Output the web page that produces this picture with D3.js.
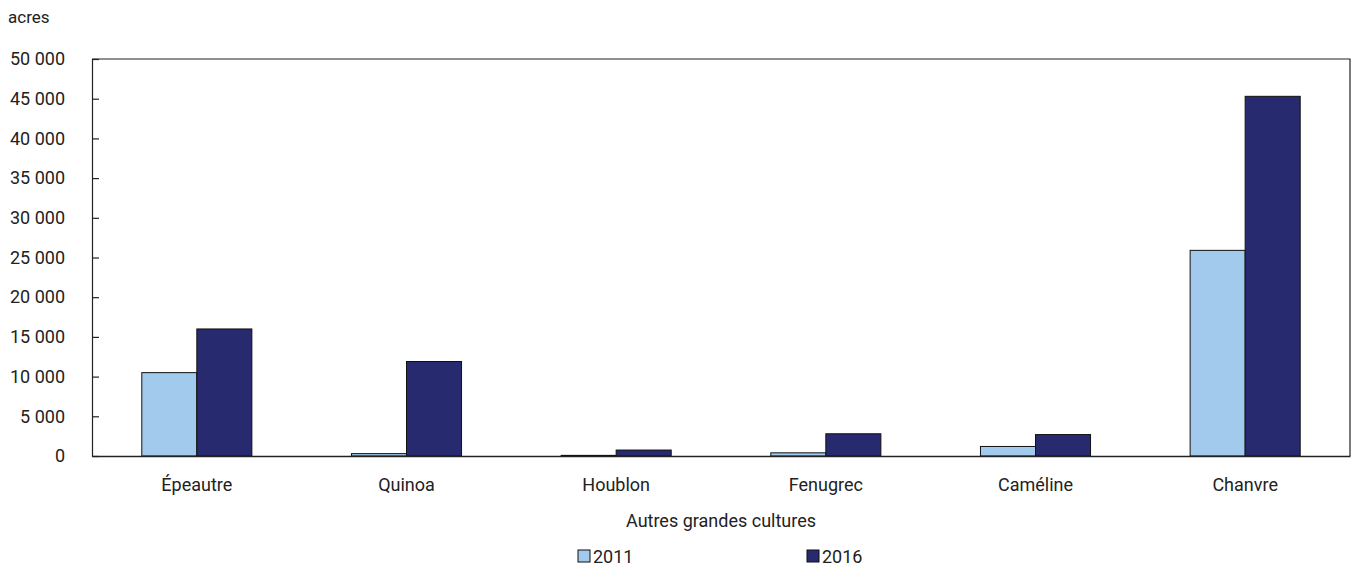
<!DOCTYPE html>
<html>
<head>
<meta charset="utf-8">
<script src="https://cdn.jsdelivr.net/npm/d3@7"></script>
<style>
  body { margin: 0; background: #fff; }
  text { font-family: Roboto, "Liberation Sans", sans-serif; fill: #222; }
</style>
</head>
<body>
<div id="chart"></div>
<script>
// Data
const categories = ['Épeautre', 'Quinoa', 'Houblon', 'Fenugrec', 'Caméline', 'Chanvre'];
const seriesNames = ['2011', '2016'];
const values2011 = [10500, 300, 80, 400, 1200, 25900];
const values2016 = [16000, 11900, 750, 2800, 2700, 45300];
const yTicks = [0, 5000, 10000, 15000, 20000, 25000, 30000, 35000, 40000, 45000, 50000];
const colors = ['#a1caec', '#272a6f'];

const width = 1353, height = 565;
const margin = { top: 59, right: 3, bottom: 109, left: 92 };
const w = width - margin.left - margin.right;
const h = height - margin.top - margin.bottom;

const svg = d3.select('#chart').append('svg')
    .attr('width', width)
    .attr('height', height);

const g = svg.append('g')
    .attr('transform', `translate(${margin.left},${margin.top})`);

const rows = categories.map((c, i) => ({ cat: c, vals: [values2011[i], values2016[i]] }));

// Scales
const x0 = d3.scaleBand()
    .domain(categories)
    .range([0, w])
    .paddingInner(0.475)
    .paddingOuter(0.2375);

const x1 = d3.scaleBand()
    .domain(seriesNames)
    .range([0, x0.bandwidth()]);

const y = d3.scaleLinear()
    .domain([0, 50000])
    .range([h, 0]);

const fmt = v => d3.format(',')(v).replace(/,/g, ' ');

// Frame (top and right)
g.append('path')
    .attr('d', `M0,0H${w}V${h}`)
    .attr('fill', 'none')
    .attr('stroke', '#222')
    .attr('stroke-width', 1.2);

// Y axis with inward ticks
const yAxis = g.append('g')
    .call(d3.axisLeft(y).tickValues(yTicks).tickSize(-7).tickPadding(27).tickFormat(fmt));
yAxis.select('.domain').attr('stroke', '#222').attr('stroke-width', 1.2);
yAxis.selectAll('.tick line').attr('stroke', '#222').attr('stroke-width', 1.2);
yAxis.selectAll('.tick text')
    .style('font-size', '18px')
    .attr('fill', '#222');

// Bars
const groups = g.selectAll('.grp')
    .data(rows)
    .enter()
    .append('g')
    .attr('class', 'grp')
    .attr('transform', d => `translate(${x0(d.cat)},0)`);

groups.selectAll('rect')
    .data(d => d.vals.map((v, i) => ({ key: seriesNames[i], v: v, i: i })))
    .enter()
    .append('rect')
    .attr('x', d => x1(d.key))
    .attr('width', x1.bandwidth())
    .attr('y', d => y(d.v))
    .attr('height', d => h - y(d.v))
    .attr('fill', d => colors[d.i])
    .attr('stroke', '#111')
    .attr('stroke-width', 1);

// X axis (baseline + labels)
const xAxis = g.append('g')
    .attr('transform', `translate(0,${h})`)
    .call(d3.axisBottom(x0).tickSize(0).tickPadding(22));
xAxis.select('.domain').attr('stroke', '#222').attr('stroke-width', 1.5);
xAxis.selectAll('.tick text')
    .style('font-size', '18px')
    .attr('fill', '#222');

// Axis titles
svg.append('text')
    .attr('x', 8)
    .attr('y', 23)
    .style('font-size', '17px')
    .text('acres');

svg.append('text')
    .attr('x', margin.left + w / 2)
    .attr('y', 527)
    .attr('text-anchor', 'middle')
    .style('font-size', '18px')
    .text('Autres grandes cultures');

// Legend
const legendX = [578, 807];
const legend = svg.selectAll('.legend')
    .data(seriesNames)
    .enter()
    .append('g')
    .attr('class', 'legend')
    .attr('transform', (d, i) => `translate(${legendX[i]},550)`);

legend.append('rect')
    .attr('width', 12)
    .attr('height', 12)
    .attr('fill', (d, i) => colors[i])
    .attr('stroke', '#111')
    .attr('stroke-width', 1);

legend.append('text')
    .attr('x', 15)
    .attr('y', 12.5)
    .style('font-size', '18px')
    .text(d => d);
</script>
</body>
</html>
